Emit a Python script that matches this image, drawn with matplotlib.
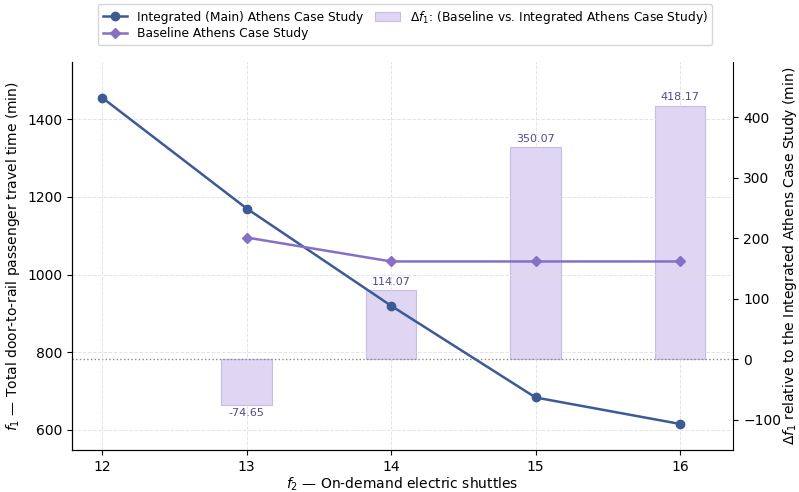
import numpy as np
import matplotlib.pyplot as plt

# shuttles fleet size (f2)
shuttles = [12, 13, 14, 15, 16]
integrated_f1 = [1455.0, 1169.95, 919.60, 683.60, 615.50]

baseline_x = [13, 14, 15, 16]
baseline_f1 = [1095.30, 1033.67, 1033.67, 1033.67]

delta_x = [13, 14, 15, 16]
delta_f1 = [-74.65, 114.07, 350.07, 418.17]

c_int = "#3c5a96"
c_base = "#8670c6"
c_bar = "#dcd2f2"
c_bar_edge = "#c4b6e6"
c_lbl = "#56498a"

fig, ax = plt.subplots(figsize=(7.99, 4.92), dpi=100)
ax2 = ax.twinx()

# delta bars on the secondary axis
bars = ax2.bar(delta_x, delta_f1, width=0.35, color=c_bar, edgecolor=c_bar_edge,
               linewidth=0.8, alpha=0.9,
               label=r"$\Delta f_1$: (Baseline vs. Integrated Athens Case Study)")
for x, v in zip(delta_x, delta_f1):
    off = 6 if v >= 0 else -6
    ax2.text(x, v + off, f"{v:.2f}", ha="center", va="bottom" if v >= 0 else "top",
             fontsize=8, color=c_lbl)
ax2.axhline(0, color="#888888", linestyle=":", linewidth=1.0)
ax2.set_ylim(-150, 491)
ax2.set_ylabel(r"$\Delta f_1$ relative to the Integrated Athens Case Study (min)",
               fontsize=10, labelpad=0)

# lines on top of the bars
ax.set_zorder(ax2.get_zorder() + 1)
ax.patch.set_visible(False)
l1, = ax.plot(shuttles, integrated_f1, marker="o", color=c_int, linewidth=1.8,
              markersize=6, label="Integrated (Main) Athens Case Study")
l2, = ax.plot(baseline_x, baseline_f1, marker="D", color=c_base, linewidth=1.8,
              markersize=5.5, label="Baseline Athens Case Study")

ax.set_xlim(11.79, 16.37)
ax.set_ylim(548, 1547)
ax.set_xticks(shuttles)
ax.set_yticks([600, 800, 1000, 1200, 1400])
ax.grid(True, linestyle="--", color="#dddddd", linewidth=0.7, alpha=0.8)
ax.set_xlabel(r"$f_2$ — On-demand electric shuttles", fontsize=10, labelpad=1)
ax.set_ylabel(r"$f_1$ — Total door-to-rail passenger travel time (min)", fontsize=10)

for a in (ax, ax2):
    a.spines["top"].set_visible(False)
ax.spines["right"].set_visible(False)

fig.legend([l1, l2, bars], [l1.get_label(), l2.get_label(), bars.get_label()],
           loc="upper center", bbox_to_anchor=(0.507, 1.005), ncol=2, fontsize=8.8,
           frameon=True, handlelength=2.0, columnspacing=1.0, borderpad=0.4,
           labelspacing=0.3)

fig.subplots_adjust(left=0.09, right=0.918, top=0.874, bottom=0.085)
fig.savefig("out.png", dpi=100)
